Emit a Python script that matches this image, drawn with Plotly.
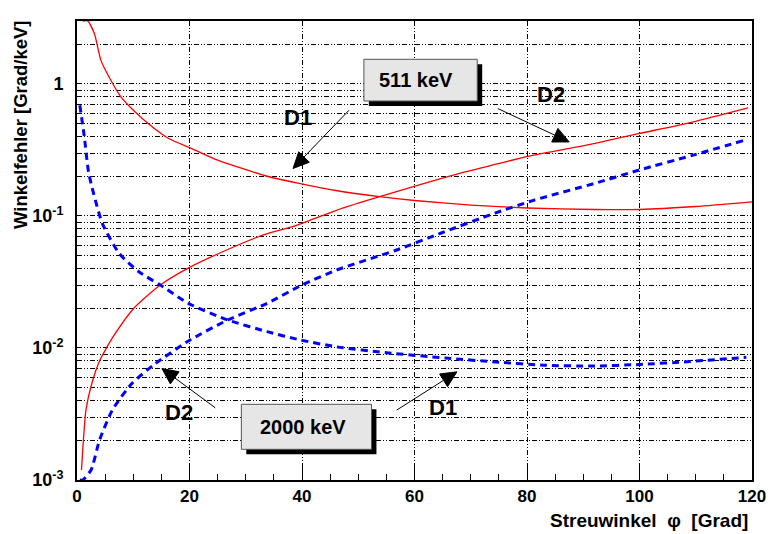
import math
import plotly.graph_objects as go

# ---------------- data ----------------
# 511 keV, contribution of detector D1 (falling, red solid)
phi_511_d1 = [1.0, 1.9, 3.1, 4.25, 5.7, 7.8, 10.4, 12.7, 16.3, 20.4, 25, 33.8, 39.7, 46, 53.8,
              60, 70, 80, 92, 100, 110, 120]
val_511_d1 = [3.0, 3.0, 2.4, 1.51, 1.13, 0.80, 0.61, 0.50, 0.386, 0.324, 0.265, 0.20, 0.176, 0.156,
              0.140, 0.131, 0.121, 0.115, 0.112, 0.112, 0.118, 0.128]

# 511 keV, contribution of detector D2 (rising, red solid)
phi_511_d2 = [0.8, 1.6, 2.8, 3.96, 5.0, 6.6, 10.1, 14.8, 20.1, 26.5, 33, 39, 46, 53.8, 69, 74.9,
              80.1, 91.9, 99.8, 109.4, 119.3]
val_511_d2 = [1.19e-3, 3.4e-3, 5.7e-3, 7.9e-3, 0.0096, 0.0125, 0.020, 0.030, 0.041, 0.055, 0.0716,
              0.085, 0.110, 0.140, 0.216, 0.249, 0.283, 0.354, 0.42, 0.515, 0.66]

# 2000 keV, contribution of detector D1 (falling, blue dashed)
phi_2000_d1 = [0.5, 1.3, 2.1, 4.5, 7.5, 11, 14.8, 19.8, 26.8, 33.8, 39.7, 46.2, 55, 65.5, 75,
               83, 92, 100, 109, 119]
val_2000_d1 = [0.69, 0.40, 0.21, 0.088, 0.052, 0.0378, 0.030, 0.0218, 0.0163, 0.0133, 0.0115,
               0.0102, 0.0092, 0.0084, 0.0078, 0.0074, 0.0073, 0.0075, 0.0079, 0.0085]

# 2000 keV, contribution of detector D2 (rising, blue dashed)
phi_2000_d2 = [0.5, 1.0, 2.5, 4.0, 6.3, 9.8, 13.9, 20.1, 26.8, 33.8, 40, 46.2, 56.7, 65, 74.3,
               81.3, 91.9, 99.8, 109.4, 118.7]
val_2000_d2 = [0.001, 0.001, 1.19e-3, 2.0e-3, 3.4e-3, 5.4e-3, 7.6e-3, 0.0115, 0.0163, 0.0218,
               0.030, 0.039, 0.055, 0.075, 0.105, 0.132, 0.176, 0.222, 0.288, 0.375]

x_ticks = [0, 20, 40, 60, 80, 100, 120]
y_decades = [-3, -2, -1, 0]
y_decade_labels = ["10<sup>-3</sup>", "10<sup>-2</sup>", "10<sup>-1</sup>", "1"]

# arrow tips (data coordinates) for the D1/D2 labels
arrow_phi = [38.4, 87.5, 15.1, 67.55]
arrow_val = [0.229, 0.364, 0.0070, 0.0066]

# ---------------- figure ----------------
FONT = "Liberation Sans"
W, H = 778, 534
L, R, T, B = 77, 18, 21, 54
PW, PH = W - L - R, H - T - B
XMIN, XMAX = 0, 120
YMIN, YMAX = 0.001, 3.0


def px(xp):
    return (xp - L) / PW


def py(yp):
    return (H - B - yp) / PH


def data_to_pix(xd, yd):
    xp = L + (xd - XMIN) / (XMAX - XMIN) * PW
    lo, hi = math.log10(YMIN), math.log10(YMAX)
    yp = H - B - (math.log10(yd) - lo) / (hi - lo) * PH
    return xp, yp


fig = go.Figure()
red = dict(color="#ff0000", width=1.3, shape="spline", smoothing=0.6)
blue = dict(color="#0000ff", width=3, dash="7px,5px", shape="spline", smoothing=0.6)
for xs, ys, st in [(phi_511_d1, val_511_d1, red), (phi_511_d2, val_511_d2, red),
                   (phi_2000_d1, val_2000_d1, blue), (phi_2000_d2, val_2000_d2, blue)]:
    fig.add_trace(go.Scatter(x=xs, y=ys, mode="lines", line=st, showlegend=False,
                             hoverinfo="skip"))

# y: labelled decades (major) + grid lines at every 2..9 x decade (minor)
ymajor = [10 ** d for d in y_decades]
yminor = []
for d in y_decades:
    for k in range(2, 10):
        v = k * 10 ** d
        if v <= YMAX + 1e-9:
            yminor.append(v)

grid_dash = "5px,2px,1px,2px,1px,2px"
fig.update_xaxes(range=[XMIN, XMAX], tickvals=x_ticks, ticks="inside", ticklen=12, tickwidth=1,
                 tickcolor="black",
                 minor=dict(dtick=5, ticks="inside", ticklen=6, tickcolor="black", showgrid=False),
                 showgrid=True, gridcolor="black", gridwidth=1, griddash=grid_dash,
                 showline=True, linecolor="black", linewidth=2, mirror=True, zeroline=False,
                 tickfont=dict(family=FONT, size=17, color="black", weight="bold"))
fig.update_yaxes(type="log", range=[math.log10(YMIN), math.log10(YMAX)], tickmode="array",
                 tickvals=ymajor, ticktext=y_decade_labels, ticks="", showgrid=True,
                 gridcolor="black", gridwidth=1, griddash=grid_dash,
                 minor=dict(tickmode="array", tickvals=yminor, ticks="", showgrid=True,
                            gridcolor="black", gridwidth=1, griddash=grid_dash),
                 showline=True, linecolor="black", linewidth=2,
                 mirror=True, zeroline=False, ticklabelstandoff=8,
                 tickfont=dict(family=FONT, size=18, color="black", weight="bold"))

shapes = []
for (x0, x1, y0, y1) in [(367.3, 482, 59.3, 101), (243.3, 375, 404.3, 449.3)]:
    shapes.append(dict(type="rect", xref="paper", yref="paper", x0=px(x0 + 5), x1=px(x1 + 5),
                       y0=py(y1 + 5), y1=py(y0 + 5), fillcolor="black",
                       line=dict(width=0), layer="above"))
    shapes.append(dict(type="rect", xref="paper", yref="paper", x0=px(x0), x1=px(x1),
                       y0=py(y1), y1=py(y0), fillcolor="#e6e6e6",
                       line=dict(color="#555555", width=1), layer="above"))

# arrows: tail offsets (pixels) from the tip; line + filled triangular head
tails = [(56.7, -58.3), (-72.3, -33.4), (54, 39.4), (-61, 38.3)]
HEAD_L, HEAD_HW = 16, 7.5
for xa, va, (ax, ay) in zip(arrow_phi, arrow_val, tails):
    tx, ty = data_to_pix(xa, va)
    sx, sy = tx + ax, ty + ay
    dx, dy = tx - sx, ty - sy
    n = math.hypot(dx, dy)
    ux, uy = dx / n, dy / n
    bx, by = tx - ux * HEAD_L, ty - uy * HEAD_L
    p1 = (bx - uy * HEAD_HW, by + ux * HEAD_HW)
    p2 = (bx + uy * HEAD_HW, by - ux * HEAD_HW)
    shapes.append(dict(type="line", xref="paper", yref="paper", x0=px(sx), y0=py(sy),
                       x1=px(bx), y1=py(by), line=dict(color="black", width=1), layer="above"))
    path = "M {:.5f},{:.5f} L {:.5f},{:.5f} L {:.5f},{:.5f} Z".format(
        px(tx), py(ty), px(p1[0]), py(p1[1]), px(p2[0]), py(p2[1]))
    shapes.append(dict(type="path", xref="paper", yref="paper", path=path, fillcolor="black",
                       line=dict(color="black", width=1), layer="above"))

ann = []
bold = dict(family=FONT, color="black", weight="bold")
for text, xc, yc, size in [("511 keV", 420.5, 80, 20), ("2000 keV", 306, 426.5, 20),
                           ("D1", 301, 117, 22), ("D2", 557, 95, 22),
                           ("D2", 180, 412, 22), ("D1", 447, 407, 22)]:
    ann.append(dict(text=text, xref="paper", yref="paper", x=px(xc), y=py(yc),
                    xanchor="center", yanchor="middle", showarrow=False,
                    font=dict(size=size, **bold)))

# axis titles
ann.append(dict(text="Winkelfehler [Grad/keV]", xref="paper", yref="paper", x=0, xshift=20 - L,
                y=py(125), xanchor="center", yanchor="middle", textangle=-90, showarrow=False,
                font=dict(size=18.5, **bold)))
ann.append(dict(text="Streuwinkel\u00a0\u00a0φ\u00a0\u00a0[Grad]", xref="paper", yref="paper",
                x=px(758), y=py(520), xanchor="right", yanchor="middle", showarrow=False,
                font=dict(size=19, **bold)))

fig.update_layout(width=W, height=H, margin=dict(l=L, r=R, t=T, b=B, pad=0),
                  paper_bgcolor="white", plot_bgcolor="white",
                  shapes=shapes, annotations=ann, showlegend=False)

fig.write_html("out.html")
